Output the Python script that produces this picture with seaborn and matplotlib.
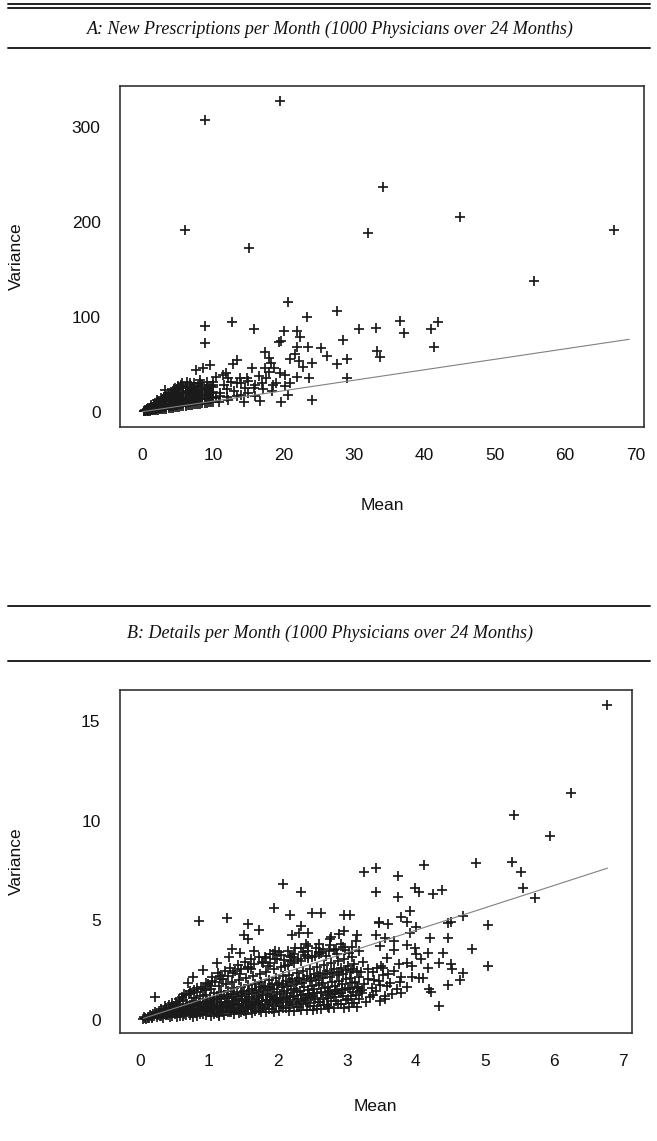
import matplotlib
matplotlib.use("Agg")
import matplotlib.pyplot as plt
from matplotlib.lines import Line2D
import seaborn as sns
import pandas as pd

# ---------------------------------------------------------------------------
# Panel A: new prescriptions per month, per-physician (mean, variance)
# ---------------------------------------------------------------------------
rx_core = [
    (0.2, 0.3), (0.2, 0.8), (0.4, 0.5), (0.4, 1.2), (0.4, 2.0),
    (0.6, 0.6), (0.6, 1.5), (0.6, 2.8), (0.8, 0.9), (0.8, 2.0), (0.8, 3.5), (0.8, 1.2),
    (1.0, 1.1), (1.0, 2.4), (1.0, 4.2), (1.0, 1.6), (1.3, 1.4), (1.3, 3.0), (1.3, 5.1), (1.3, 2.2),
    (1.6, 1.7), (1.6, 3.6), (1.6, 6.0), (1.6, 2.5), (1.6, 8.0),
    (1.9, 2.0), (1.9, 4.1), (1.9, 7.2), (1.9, 3.0),
    (2.2, 2.3), (2.2, 4.6), (2.2, 8.1), (2.2, 3.4), (2.2, 11.0),
    (2.5, 2.5), (2.5, 5.3), (2.5, 9.0), (2.5, 3.9), (2.5, 6.8),
    (2.8, 2.9), (2.8, 6.0), (2.8, 10.4), (2.8, 4.2), (2.8, 13.0),
    (3.1, 3.2), (3.1, 6.4), (3.1, 11.5), (3.1, 4.8), (3.1, 14.0),
    (3.4, 3.0), (3.4, 7.0), (3.4, 12.0), (3.4, 5.2), (3.4, 9.3), (3.4, 17.0),
    (3.7, 3.8), (3.7, 7.6), (3.7, 13.5), (3.7, 5.6), (3.7, 16.0),
    (4.0, 4.1), (4.0, 8.2), (4.0, 14.3), (4.0, 6.0), (4.0, 11.0), (4.0, 19.0),
    (4.3, 4.0), (4.3, 8.8), (4.3, 15.0), (4.3, 6.4), (4.3, 12.1), (4.3, 21.5),
    (4.6, 4.7), (4.6, 9.3), (4.6, 16.2), (4.6, 7.1), (4.6, 21.0), (4.6, 18.5),
    (4.9, 5.0), (4.9, 10.0), (4.9, 17.1), (4.9, 7.5), (4.9, 13.0), (4.9, 24.0),
    (5.2, 5.3), (5.2, 10.6), (5.2, 18.0), (5.2, 8.0), (5.2, 23.5), (5.2, 14.0),
    (5.5, 5.6), (5.5, 11.2), (5.5, 19.4), (5.5, 8.4), (5.5, 14.6), (5.5, 27.0),
    (5.8, 6.0), (5.8, 11.8), (5.8, 20.1), (5.8, 8.9), (5.8, 24.5),
    (6.1, 6.2), (6.1, 12.3), (6.1, 21.0), (6.1, 9.5), (6.1, 16.0), (6.1, 25.5),
    (6.4, 6.6), (6.4, 13.0), (6.4, 22.3), (6.4, 10.0), (6.4, 18.0),
    (6.7, 7.0), (6.7, 13.6), (6.7, 23.0), (6.7, 10.4), (6.7, 18.0), (6.7, 28.5),
    (7.0, 7.1), (7.0, 14.2), (7.0, 24.1), (7.0, 11.0), (7.0, 19.5),
    (7.3, 7.6), (7.3, 14.8), (7.3, 20.5), (7.3, 11.5), (7.3, 30.0),
    (7.6, 7.8), (7.6, 15.4), (7.6, 25.5), (7.6, 12.0), (7.6, 20.0),
    (7.9, 8.2), (7.9, 16.0), (7.9, 21.0), (7.9, 12.5), (7.9, 27.0),
    (8.2, 8.5), (8.2, 16.5), (8.2, 22.5), (8.2, 13.0), (8.2, 30.5),
    (8.5, 9.0), (8.5, 17.2), (8.5, 28.5), (8.5, 13.5), (8.5, 21.0),
    (8.8, 9.3), (8.8, 17.8), (8.8, 24.0), (8.8, 14.0),
    (9.1, 9.5), (9.1, 18.4), (9.1, 14.5), (9.1, 31.0), (9.1, 24.5),
    (9.4, 10.0), (9.4, 19.0), (9.4, 25.0), (9.4, 15.0),
    (9.7, 10.3), (9.7, 19.6), (9.7, 15.5), (9.7, 27.0),
    (10.0, 10.5), (10.0, 20.3), (10.0, 28.0), (10.0, 16.0),
    (2.0, 12.0), (3.0, 16.0), (3.6, 19.5), (4.4, 24.0), (5.0, 27.5),
    (5.6, 30.0), (6.3, 31.5), (2.6, 14.5), (1.2, 7.0), (1.8, 9.5),
]

rx_spread = [
    (33.1, 88.4), (36.6, 95.5), (37.1, 83.2), (41.0, 86.7), (42.0, 94.7),
    (41.4, 67.8), (33.3, 63.9), (33.7, 57.2), (20.7, 115.2), (27.6, 106.3),
    (23.4, 99.4), (8.85, 90.5), (12.7, 94.1), (15.8, 87.1), (20.1, 85.0),
    (22.0, 85.0), (22.3, 78.3), (30.7, 86.7), (8.85, 72.0), (19.4, 73.0),
    (19.6, 74.5), (28.5, 75.5), (22.0, 67.8), (23.5, 67.8), (25.4, 66.7),
    (17.4, 63.2), (21.6, 60.7), (26.2, 59.0), (18.0, 56.2), (21.0, 55.1),
    (22.2, 53.4), (29.0, 55.1), (27.6, 49.9), (24.1, 50.9), (22.8, 46.7),
    (18.3, 50.9), (13.4, 54.4), (12.8, 50.2), (9.6, 49.2), (8.6, 45.7),
    (7.6, 43.9), (15.5, 45.7), (17.4, 45.7), (18.7, 45.7), (19.5, 40.4),
    (20.2, 38.6), (21.9, 36.2), (23.6, 35.2), (29.1, 35.8), (17.6, 35.2),
    (19.0, 30.5), (20.2, 27.1), (20.7, 17.6), (24.0, 12.3), (19.7, 10.5),
    (16.7, 11.6), (14.4, 10.5), (17.1, 23.6), (18.4, 22.1), (15.8, 25.3),
    (14.6, 25.3), (13.4, 16.5), (12.2, 12.3), (10.9, 9.9), (13.8, 35.2),
    (14.8, 35.2), (13.4, 29.9), (12.2, 35.2), (11.9, 40.4), (11.4, 38.6),
    (10.5, 36.8), (10.0, 31.6), (8.1, 33.4), (6.7, 29.9), (5.5, 28.1),
    (4.6, 24.6), (3.2, 22.8),
    (11.0, 20.0), (12.0, 24.0), (13.0, 22.0), (14.0, 18.0), (15.0, 20.0),
    (16.0, 17.0), (11.5, 28.0), (12.5, 31.0), (14.0, 30.0), (15.0, 32.0),
    (16.0, 28.0), (10.5, 14.0), (11.0, 17.0), (12.0, 15.0), (9.5, 22.0),
    (10.0, 26.0), (9.0, 18.0), (8.5, 26.0), (7.5, 20.0), (7.0, 24.0),
    (16.5, 38.0), (18.0, 42.0), (17.0, 30.0), (18.5, 28.0), (21.0, 30.0),
]

rx_outliers = [
    (8.85, 307.0), (19.5, 327.0), (6.0, 191.0), (15.1, 172.0), (32.0, 188.0),
    (34.2, 236.0), (45.1, 205.0), (66.9, 191.0), (55.6, 138.0),
]

# reference line drawn across panel A
rx_line_mean = [0.0, 69.1]
rx_line_var = [0.0, 76.2]

# ---------------------------------------------------------------------------
# Panel B: details per month, per-physician (mean, variance)
# ---------------------------------------------------------------------------
det_core = [
    # mean < 0.5
    (0.04, 0.03), (0.07, 0.09), (0.09, 0.05), (0.06, 0.11), (0.11, 0.07),
    (0.13, 0.10), (0.16, 0.19), (0.12, 0.15), (0.18, 0.13), (0.19, 0.26), (0.14, 0.22), (0.17, 0.08),
    (0.21, 0.17), (0.23, 0.29), (0.26, 0.21), (0.28, 0.35), (0.24, 0.12), (0.27, 0.44), (0.29, 0.18), (0.22, 0.37),
    (0.34, 0.09), (0.31, 0.16), (0.38, 0.22), (0.36, 0.27), (0.32, 0.33), (0.39, 0.38), (0.35, 0.45), (0.37, 0.58),
    (0.44, 0.11), (0.47, 0.19), (0.41, 0.24), (0.46, 0.31), (0.43, 0.36), (0.48, 0.42), (0.42, 0.49), (0.45, 0.57), (0.49, 0.66),
    # 0.5 - 1.0
    (0.53, 0.13), (0.58, 0.18), (0.51, 0.27), (0.56, 0.33), (0.59, 0.38), (0.52, 0.46), (0.57, 0.52), (0.54, 0.61), (0.55, 0.72), (0.58, 0.91),
    (0.62, 0.16), (0.67, 0.24), (0.64, 0.29), (0.61, 0.37), (0.69, 0.44), (0.65, 0.49), (0.63, 0.58), (0.68, 0.66), (0.66, 0.79), (0.62, 0.97), (0.64, 1.30),
    (0.77, 0.15), (0.72, 0.22), (0.75, 0.31), (0.79, 0.36), (0.71, 0.43), (0.76, 0.51), (0.74, 0.55), (0.78, 0.64), (0.73, 0.73), (0.75, 0.88), (0.79, 1.06), (0.72, 1.42),
    (0.83, 0.19), (0.87, 0.26), (0.81, 0.33), (0.86, 0.41), (0.89, 0.47), (0.82, 0.53), (0.88, 0.62), (0.84, 0.70), (0.86, 0.82), (0.81, 0.95), (0.87, 1.17), (0.83, 1.60),
    (0.96, 0.21), (0.92, 0.28), (0.98, 0.36), (0.94, 0.44), (0.91, 0.50), (0.97, 0.59), (0.93, 0.67), (0.99, 0.76), (0.95, 0.88), (0.92, 1.02), (0.96, 1.25), (0.94, 1.48), (0.98, 1.78),
    # 1.0 - 1.5
    (1.03, 0.20), (1.07, 0.30), (1.01, 0.39), (1.06, 0.46), (1.09, 0.55), (1.02, 0.61), (1.08, 0.70), (1.04, 0.83), (1.06, 0.94), (1.01, 1.09), (1.07, 1.31), (1.03, 1.56), (1.05, 1.95),
    (1.14, 0.24), (1.11, 0.33), (1.17, 0.41), (1.13, 0.50), (1.19, 0.57), (1.16, 0.66), (1.12, 0.75), (1.18, 0.87), (1.15, 1.01), (1.11, 1.14), (1.17, 1.38), (1.14, 1.67), (1.16, 2.20),
    (1.22, 0.25), (1.27, 0.36), (1.24, 0.44), (1.21, 0.53), (1.28, 0.63), (1.25, 0.71), (1.23, 0.82), (1.29, 0.93), (1.26, 1.06), (1.22, 1.22), (1.27, 1.45), (1.24, 1.78), (1.21, 2.05),
    (1.36, 0.28), (1.32, 0.38), (1.38, 0.48), (1.34, 0.56), (1.31, 0.66), (1.37, 0.77), (1.33, 0.86), (1.39, 0.99), (1.35, 1.13), (1.32, 1.30), (1.36, 1.57), (1.34, 1.88), (1.38, 2.42),
    (1.43, 0.31), (1.47, 0.40), (1.41, 0.51), (1.46, 0.60), (1.49, 0.70), (1.42, 0.80), (1.48, 0.92), (1.44, 1.05), (1.46, 1.19), (1.41, 1.38), (1.47, 1.64), (1.43, 1.97), (1.45, 2.30),
    # 1.5 - 2.0
    (1.54, 0.30), (1.51, 0.43), (1.57, 0.54), (1.53, 0.63), (1.59, 0.74), (1.56, 0.86), (1.52, 0.97), (1.58, 1.11), (1.55, 1.27), (1.51, 1.45), (1.57, 1.72), (1.54, 2.08), (1.56, 2.60),
    (1.62, 0.34), (1.67, 0.45), (1.64, 0.57), (1.61, 0.67), (1.68, 0.79), (1.65, 0.90), (1.63, 1.03), (1.69, 1.18), (1.66, 1.34), (1.62, 1.53), (1.67, 1.81), (1.64, 2.19), (1.61, 2.55),
    (1.76, 0.36), (1.72, 0.49), (1.78, 0.60), (1.74, 0.71), (1.71, 0.83), (1.77, 0.95), (1.73, 1.08), (1.79, 1.24), (1.75, 1.41), (1.72, 1.62), (1.76, 1.90), (1.74, 2.31), (1.78, 2.85),
    (1.83, 0.37), (1.87, 0.51), (1.81, 0.63), (1.86, 0.75), (1.89, 0.88), (1.82, 1.00), (1.88, 1.14), (1.84, 1.30), (1.86, 1.48), (1.81, 1.70), (1.87, 1.99), (1.83, 2.40), (1.85, 2.70), (1.88, 3.30),
    (1.94, 0.40), (1.91, 0.53), (1.97, 0.66), (1.93, 0.78), (1.99, 0.92), (1.96, 1.05), (1.92, 1.20), (1.98, 1.37), (1.95, 1.55), (1.91, 1.77), (1.97, 2.08), (1.94, 2.52), (1.96, 3.05),
    # 2.0 - 2.5
    (2.02, 0.41), (2.07, 0.56), (2.04, 0.70), (2.01, 0.83), (2.08, 0.96), (2.05, 1.10), (2.03, 1.26), (2.09, 1.43), (2.06, 1.63), (2.02, 1.86), (2.07, 2.17), (2.04, 2.62), (2.01, 3.40),
    (2.16, 0.44), (2.12, 0.58), (2.18, 0.73), (2.14, 0.86), (2.11, 1.01), (2.17, 1.15), (2.13, 1.31), (2.19, 1.50), (2.15, 1.70), (2.12, 1.93), (2.16, 2.26), (2.14, 2.74), (2.18, 3.20),
    (2.23, 0.45), (2.27, 0.61), (2.21, 0.76), (2.26, 0.90), (2.29, 1.05), (2.22, 1.20), (2.28, 1.37), (2.24, 1.56), (2.26, 1.77), (2.21, 2.02), (2.27, 2.36), (2.23, 2.85), (2.25, 3.60),
    (2.34, 0.48), (2.31, 0.63), (2.37, 0.79), (2.33, 0.94), (2.39, 1.10), (2.36, 1.25), (2.32, 1.43), (2.38, 1.63), (2.35, 1.85), (2.31, 2.10), (2.37, 2.45), (2.34, 2.96), (2.36, 3.40),
    (2.42, 0.49), (2.47, 0.66), (2.44, 0.82), (2.41, 0.97), (2.48, 1.14), (2.45, 1.30), (2.43, 1.48), (2.49, 1.69), (2.46, 1.92), (2.42, 2.19), (2.47, 2.55), (2.44, 3.08), (2.41, 3.80),
    # 2.5 - 3.2
    (2.56, 0.52), (2.52, 0.69), (2.58, 0.86), (2.54, 1.01), (2.51, 1.18), (2.57, 1.35), (2.53, 1.54), (2.59, 1.76), (2.55, 2.00), (2.52, 2.27), (2.56, 2.64), (2.54, 3.20),
    (2.63, 0.53), (2.67, 0.71), (2.61, 0.89), (2.66, 1.05), (2.69, 1.23), (2.62, 1.40), (2.68, 1.60), (2.64, 1.82), (2.66, 2.07), (2.61, 2.36), (2.67, 2.74), (2.63, 3.32),
    (2.74, 0.56), (2.71, 0.74), (2.77, 0.92), (2.73, 1.09), (2.79, 1.27), (2.76, 1.45), (2.72, 1.66), (2.78, 1.89), (2.75, 2.15), (2.71, 2.44), (2.77, 2.84), (2.74, 3.44),
    (2.82, 0.57), (2.87, 0.76), (2.84, 0.95), (2.81, 1.13), (2.88, 1.32), (2.85, 1.50), (2.83, 1.71), (2.89, 1.95), (2.86, 2.22), (2.82, 2.53), (2.87, 2.93), (2.84, 3.55),
    (2.96, 0.60), (2.92, 0.79), (2.98, 0.99), (2.94, 1.17), (2.91, 1.36), (2.97, 1.55), (2.93, 1.77), (2.99, 2.02), (2.95, 2.30), (2.92, 2.61), (2.96, 3.03), (2.94, 3.67),
    (3.03, 0.62), (3.07, 0.82), (3.01, 1.02), (3.06, 1.20), (3.09, 1.41), (3.02, 1.60), (3.08, 1.83), (3.04, 2.09), (3.06, 2.37), (3.01, 2.70), (3.07, 3.13),
    (3.14, 0.64), (3.11, 0.85), (3.17, 1.05), (3.13, 1.24), (3.19, 1.45), (3.16, 1.66), (3.12, 1.89), (3.18, 2.15), (3.15, 2.45), (3.11, 2.79),
    # 3.2 - 3.9
    (3.27, 0.90), (3.33, 1.12), (3.22, 1.33), (3.36, 1.58), (3.25, 1.80), (3.31, 2.05), (3.38, 2.38), (3.24, 2.90),
    (3.48, 0.95), (3.55, 1.20), (3.42, 1.45), (3.58, 1.70), (3.46, 1.95), (3.52, 2.25), (3.44, 2.60),
    (3.66, 1.30), (3.73, 1.55), (3.62, 1.85), (3.78, 2.15), (3.69, 2.45),
]

# upper half of the dense band (higher variance-to-mean ratios)
det_band = [
    (0.31, 0.52), (0.36, 0.66), (0.42, 0.71), (0.47, 0.83), (0.52, 0.88), (0.57, 1.02),
    (0.61, 1.11), (0.66, 1.21), (0.71, 1.27), (0.74, 1.36), (0.79, 1.49), (0.83, 1.38),
    (0.88, 1.66), (0.91, 1.55), (0.96, 1.83), (1.02, 1.71), (1.05, 2.12), (1.09, 1.88),
    (1.13, 2.34), (1.18, 2.02), (1.23, 2.45), (1.27, 2.19), (1.31, 2.61), (1.35, 2.33),
    (1.42, 2.74), (1.46, 2.52), (1.52, 2.91), (1.57, 2.62), (1.61, 3.05), (1.66, 2.77),
    (1.72, 3.16), (1.77, 2.90), (1.83, 3.11), (1.88, 2.86), (1.93, 3.28), (1.99, 3.02),
    (2.04, 3.22), (2.09, 2.97), (2.14, 3.45), (2.19, 3.12), (2.24, 3.31), (2.29, 3.05),
    (2.34, 3.58), (2.39, 3.26), (2.44, 3.47), (2.49, 3.13), (2.55, 3.62), (2.60, 3.38),
    (2.65, 3.55), (2.70, 3.21), (2.76, 3.74), (2.81, 3.49), (2.86, 3.30), (2.92, 3.81),
    (2.97, 3.52), (3.03, 3.34), (3.08, 3.66), (3.13, 3.93), (3.18, 3.45),
    (0.33, 0.28), (0.44, 0.36), (0.54, 0.41), (0.63, 0.47), (0.68, 0.55), (0.73, 0.39),
    (0.77, 0.68), (0.82, 0.44), (0.87, 0.79), (0.93, 0.52), (0.97, 0.91), (1.04, 0.58),
    (1.08, 1.03), (1.12, 0.62), (1.17, 1.12), (1.21, 0.67), (1.26, 1.18), (1.33, 0.73),
    (1.37, 1.26), (1.43, 0.78), (1.48, 1.36), (1.53, 0.82), (1.58, 1.44), (1.63, 0.88),
    (1.68, 1.51), (1.73, 0.93), (1.78, 1.58), (1.84, 0.97), (1.89, 1.66), (1.94, 1.03),
    (1.98, 1.72), (2.03, 1.07), (2.08, 1.81), (2.13, 1.12), (2.18, 1.87), (2.23, 1.17),
    (2.28, 1.96), (2.33, 1.22), (2.38, 2.03), (2.43, 1.26), (2.48, 2.11), (2.53, 1.31),
    (2.58, 2.18), (2.63, 1.36), (2.68, 2.27), (2.73, 1.41), (2.78, 2.33), (2.83, 1.46),
    (2.88, 2.41), (2.93, 1.51), (2.98, 2.48), (3.04, 1.55), (3.09, 2.55), (3.14, 1.60),
    (3.20, 2.40), (3.30, 2.55), (3.40, 2.00), (3.50, 2.70), (3.60, 2.30), (3.75, 2.80),
]

det_spread = [
    (5.39, 7.90), (5.52, 7.43), (5.56, 6.62), (5.73, 6.12), (4.87, 7.85),
    (4.12, 7.76), (3.42, 7.60), (3.25, 7.40), (3.74, 7.21), (3.42, 6.42),
    (3.74, 6.17), (3.99, 6.62), (4.04, 6.42), (4.25, 6.29), (4.38, 6.51),
    (3.91, 5.45), (3.78, 5.17), (3.87, 4.91), (3.47, 4.91), (3.60, 4.80),
    (4.00, 4.63), (3.92, 4.36), (4.47, 4.83), (4.51, 4.91), (4.69, 5.20),
    (5.04, 4.75), (3.42, 4.25), (3.55, 4.08), (3.69, 3.96), (4.21, 4.11),
    (4.46, 4.08), (3.87, 3.74), (3.99, 3.58), (3.48, 3.69), (3.69, 3.49),
    (4.00, 3.29), (4.17, 3.33), (4.39, 3.33), (4.82, 3.53), (4.08, 3.03),
    (4.34, 2.85), (3.87, 2.82), (3.94, 2.69), (4.17, 2.60), (4.51, 2.79),
    (4.52, 2.52), (5.04, 2.69), (4.69, 2.32), (4.64, 1.98), (4.46, 1.73),
    (4.19, 1.53), (4.22, 1.40), (4.34, 0.69), (4.04, 2.07), (4.11, 2.07),
    (3.94, 2.12), (3.77, 1.90), (3.87, 1.65), (3.78, 1.35), (3.55, 1.02),
    (3.38, 1.23), (3.48, 1.73), (3.53, 2.57), (3.58, 3.08), (3.22, 1.48),
    (2.07, 6.81), (2.33, 6.39), (1.95, 5.59), (2.17, 5.25), (2.50, 5.37),
    (2.63, 5.37), (2.96, 5.25), (3.04, 5.25), (0.86, 4.95), (1.26, 5.12),
    (1.56, 4.80), (1.73, 4.50), (1.51, 4.25), (1.56, 4.05), (2.33, 4.70),
    (2.21, 4.25), (2.31, 4.33), (2.43, 4.36), (2.96, 4.46), (3.15, 4.25),
    (2.77, 4.16), (2.89, 4.30), (3.46, 4.83), (0.22, 1.12), (1.34, 3.53),
    (1.45, 3.36), (1.65, 3.46), (1.96, 3.46), (1.29, 3.13), (1.11, 2.82),
    (0.92, 2.49), (0.77, 2.15), (0.69, 1.82), (2.43, 3.69), (2.59, 3.79),
    (2.76, 4.03), (2.43, 3.20), (2.60, 3.30), (2.22, 3.16), (2.19, 2.95),
    (1.81, 3.16), (2.10, 2.69), (2.73, 0.64), (2.51, 0.48), (1.14, 0.18),
    (1.31, 0.39),
]

det_outliers = [(6.77, 15.8), (6.25, 11.37), (5.42, 10.28), (5.95, 9.24)]

# reference line drawn across panel B
det_line_mean = [0.05, 6.78]
det_line_var = [0.06, 7.61]


def to_frame(*groups):
    rows = [p for g in groups for p in g]
    return pd.DataFrame(rows, columns=["Mean", "Variance"])


df_a = to_frame(rx_core, rx_spread, rx_outliers)
df_b = to_frame(det_core, det_band, det_spread, det_outliers)

sns.set_theme(style="white")
plt.rcParams["font.family"] = ["Liberation Sans", "DejaVu Sans"]

W, H = 657, 1141
fig = plt.figure(figsize=(W / 100, H / 100), dpi=100)

# axes rectangles in pixel space: (left, top, right, bottom)
boxes = {
    "a": (120, 86, 644, 427),
    "b": (120, 690, 631.7, 1033.3),
}


def add_axes(box):
    l, t, r, b = box
    return fig.add_axes([l / W, 1 - b / H, (r - l) / W, (b - t) / H])


ax_a = add_axes(boxes["a"])
ax_b = add_axes(boxes["b"])

ink = "#1a1a1a"
frame = "#333333"

for ax, df, lx, ly, xl, yl, xt, yt in [
    (ax_a, df_a, rx_line_mean, rx_line_var, (-3.2, 71.2), (-16.1, 342.8),
     [0, 10, 20, 30, 40, 50, 60, 70], [0, 100, 200, 300]),
    (ax_b, df_b, det_line_mean, det_line_var, (-0.29, 7.13), (-0.69, 16.56),
     [0, 1, 2, 3, 4, 5, 6, 7], [0, 5, 10, 15]),
]:
    sns.lineplot(x=lx, y=ly, ax=ax, color="#808080", linewidth=0.8)
    sns.scatterplot(data=df, x="Mean", y="Variance", ax=ax, marker="+",
                    s=62, color=ink, linewidth=1.25, legend=False)
    ax.set_xlim(*xl)
    ax.set_ylim(*yl)
    ax.set_xticks(xt)
    ax.set_yticks(yt)
    ax.tick_params(axis="both", which="major", direction="out", length=12,
                   width=1.3, color=frame, labelsize=12.5, labelcolor="#111111")
    ax.tick_params(axis="x", pad=3)
    ax.tick_params(axis="y", pad=2)
    for sp in ax.spines.values():
        sp.set_visible(True)
        sp.set_color(frame)
        sp.set_linewidth(1.2)
    ax.set_xlabel("Mean", fontsize=12.5, color="#111111")
    ax.set_ylabel("Variance", fontsize=12.5, color="#111111")

ax_a.xaxis.set_label_coords(0.5, -0.208)
ax_a.yaxis.set_label_coords(-0.183, 0.5)
ax_b.xaxis.set_label_coords(0.5, -0.19)
ax_b.yaxis.set_label_coords(-0.188, 0.5)


# panel headers: rules above and below an italic serif title
def hline(y_px, lw=1.4):
    fig.add_artist(Line2D([8 / W, 650 / W], [1 - y_px / H, 1 - y_px / H],
                          color="#222222", linewidth=lw))


hline(3.5)
hline(7.5)
hline(48)
fig.text(330 / W, 1 - 29 / H,
         "A: New Prescriptions per Month (1000 Physicians over 24 Months)",
         ha="center", va="center", fontsize=13, style="italic",
         family=["Liberation Serif", "DejaVu Serif"], color="#111111")

hline(606)
hline(661)
fig.text(330 / W, 1 - 633 / H,
         "B: Details per Month (1000 Physicians over 24 Months)",
         ha="center", va="center", fontsize=13, style="italic",
         family=["Liberation Serif", "DejaVu Serif"], color="#111111")

fig.savefig("out.png", dpi=100)
